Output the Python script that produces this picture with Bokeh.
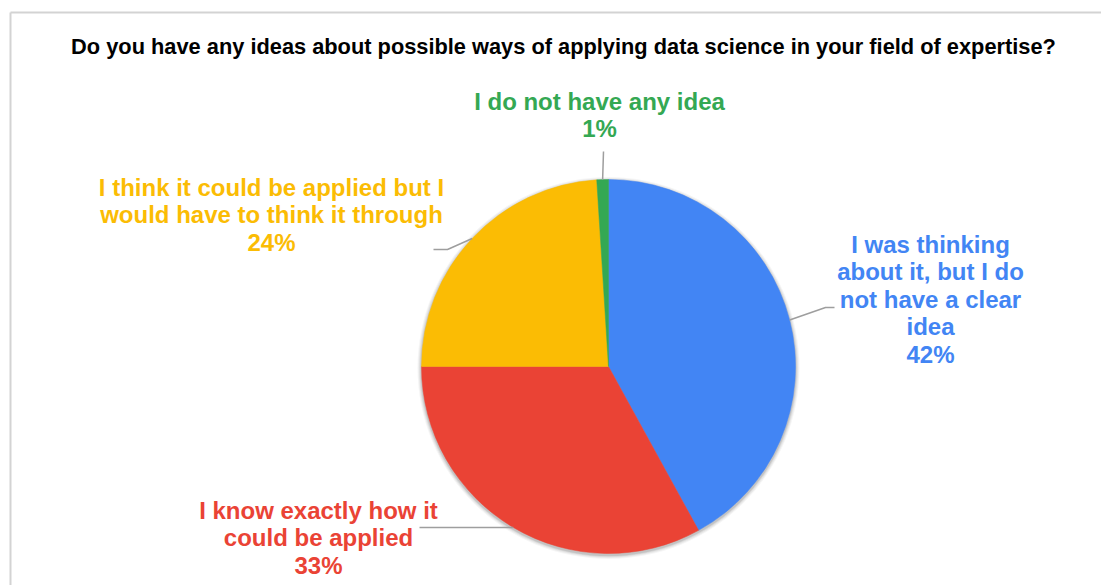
import math
from bokeh.plotting import figure
from bokeh.models import Range1d
from bokeh.core.properties import value
from bokeh.embed import file_html
from bokeh.resources import INLINE

# Survey answers, clockwise from 12 o'clock
categories = [
    "I was thinking\nabout it, but I do\nnot have a clear\nidea",
    "I know exactly how it\ncould be applied",
    "I think it could be applied but I\nwould have to think it through",
    "I do not have any idea",
]
shares = [42, 33, 24, 1]
colors = ["#4285F4", "#EA4335", "#FBBC04", "#34A853"]
title = "Do you have any ideas about possible ways of applying data science in your field of expertise?"

W, H = 1101, 585
FONT = "Liberation Sans"

p = figure(width=W, height=H, output_backend="svg", toolbar_location=None,
           x_range=Range1d(0, W), y_range=Range1d(0, H),
           min_border=0, min_border_left=0, min_border_right=0,
           min_border_top=0, min_border_bottom=0)
p.axis.visible = False
p.grid.visible = False
p.outline_line_color = None
p.background_fill_color = "white"
p.border_fill_color = "white"


def Y(y_px):
    # page pixels measured from the top -> data y
    return H - y_px


# frame border (top and left edges visible)
p.segment(x0=[10, 10], y0=[Y(12), Y(12)], x1=[W + 5, 10], y1=[Y(12), Y(H + 5)],
          line_color="#d3d3d3", line_width=2)

# chart title
p.text(x=[563], y=[Y(46)], text=[title], text_font=value(FONT),
       text_font_style="bold", text_font_size="21.8px", text_color="#000000",
       text_align="center", text_baseline="middle")

cx, cy, r = 608, Y(366), 187

# soft shadow under the pie
for dr, a in [(4, 0.04), (3, 0.05), (2, 0.07), (1, 0.09)]:
    p.circle(x=[cx], y=[cy - 1.5], radius=r + dr, fill_color="#000000",
             fill_alpha=a, line_color=None)

total = float(sum(shares))
starts, ends, mids = [], [], []
acc = 0.0
for s in shares:
    t0 = acc / total * 2 * math.pi
    acc += s
    t1 = acc / total * 2 * math.pi
    starts.append(math.pi / 2 - t0)
    ends.append(math.pi / 2 - t1)
    mids.append((t0 + t1) / 2)

p.wedge(x=[cx] * len(shares), y=[cy] * len(shares), radius=r,
        start_angle=starts, end_angle=ends, direction="clock",
        fill_color=colors, line_color=colors, line_width=0.5)

# leader lines: from the slice edge at its mid angle to an elbow, then to the label
elbows = [(825, 307), None, (447, 249), None]
tails = [(834, 307), (419, 526), (433, 249), (603, 151)]
for i, m in enumerate(mids):
    ex = cx + r * math.sin(m)
    ey = cy + r * math.cos(m)
    xs, ys = [ex], [ey]
    if elbows[i] is not None:
        xs.append(elbows[i][0]); ys.append(Y(elbows[i][1]))
    if i == 1:
        xs.append(tails[i][0]); ys.append(ey)
    else:
        xs.append(tails[i][0]); ys.append(Y(tails[i][1]))
    p.line(xs, ys, line_color="#9e9e9e", line_width=1.5)

# label block centres (first line centre in page pixels)
label_pos = [(930, 244), (318, 510), (271, 187), (599, 101)]
for i, (lx, ly) in enumerate(label_pos):
    txt = categories[i] + "\n" + f"{shares[i]}%"
    p.text(x=[lx], y=[Y(ly)], text=[txt], text_font=value(FONT),
           text_font_style="bold", text_font_size="24px", text_color=colors[i],
           text_align="center", text_baseline="top", text_line_height=1.02,
           y_offset=-14)

open("out.html", "w").write(file_html(p, INLINE))
